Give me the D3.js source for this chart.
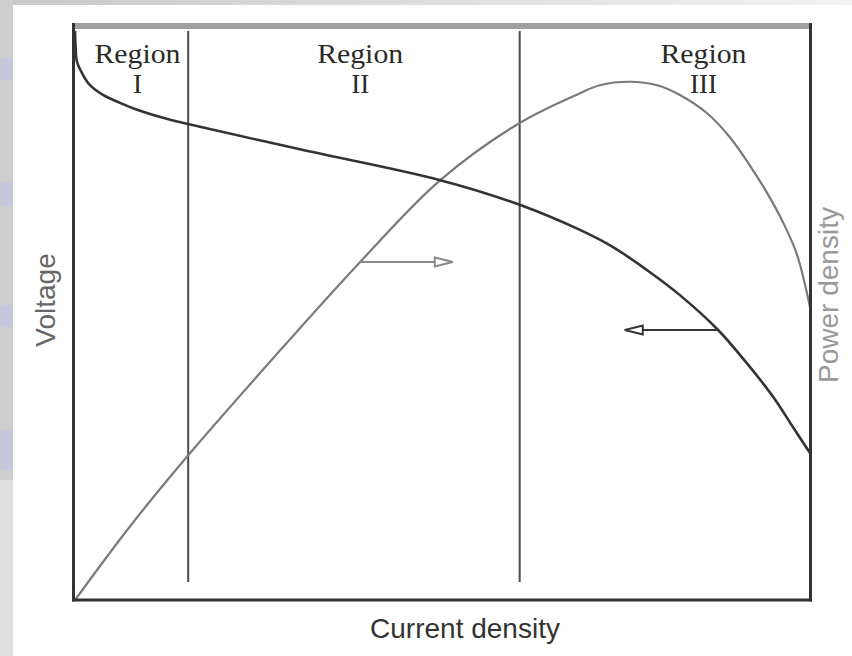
<!DOCTYPE html>
<html>
<head>
<meta charset="utf-8">
<script src="https://cdn.jsdelivr.net/npm/d3@7"></script>
<style>
  html, body { margin: 0; padding: 0; background: #fff; }
  svg { display: block; }
  .axis-label { font-family: "Liberation Sans", Arial, sans-serif; }
  .region-label { font-family: "Liberation Serif", "Times New Roman", serif; fill: #2a2a2a; }
</style>
</head>
<body>
<div id="chart"></div>
<script>
// current density (arbitrary units, 0-100) for the polarization curve
const voltageCurrent = [0, 0.07, 0.27, 1.09, 2.04, 3.81, 6.12, 8.44, 11.97, 15.37, 30.6, 49.7, 60.5, 68.7, 73.2, 77.8, 82.3, 87.5, 91.4, 95.0, 97.7, 100];
const voltageValues  = [99.5, 97.0, 94.1, 91.8, 90.0, 88.3, 86.9, 85.7, 84.3, 83.2, 78.8, 73.4, 69.1, 64.7, 61.7, 57.7, 53.3, 47.2, 41.4, 35.5, 30.2, 25.7];

// power density curve
const powerCurrent = [0, 7.5, 15.4, 26.5, 38.8, 49.7, 60.5, 68.7, 71.4, 75.5, 79.2, 82.3, 86.0, 89.1, 91.8, 94.1, 96.3, 98.2, 100];
const powerValues  = [0, 12.9, 25.3, 41.6, 59.1, 73.4, 83.4, 88.6, 90.0, 90.6, 90.0, 88.3, 85.1, 80.9, 76.0, 71.3, 66.1, 60.5, 51.2];

// region boundaries (current density) and labels
const regionBounds = [15.4, 60.5];
const regionNames = ["I", "II", "III"];
const regionCenters = [8.5, 38.8, 85.5];

// arrows pointing to the axis each curve belongs to: [from, to, level]
const powerArrow = [38.8, 51.4, 59.1];
const voltageArrow = [87.5, 74.8, 47.2];

const width = 852, height = 656;
const margin = { top: 28, right: 42, bottom: 56, left: 75 };
const innerW = width - margin.left - margin.right;   // 735
const innerH = height - margin.top - margin.bottom;  // 572

const svg = d3.select("#chart").append("svg")
  .attr("width", width)
  .attr("height", height);

// scanned page background bits
svg.append("rect").attr("width", width).attr("height", height).attr("fill", "#fff");
const defs = svg.append("defs");
const topGrad = defs.append("linearGradient").attr("id", "topGrad");
topGrad.append("stop").attr("offset", "0%").attr("stop-color", "#c9c9c9");
topGrad.append("stop").attr("offset", "100%").attr("stop-color", "#f2f2f2");
svg.append("rect").attr("x", 0).attr("y", 0).attr("width", width).attr("height", 5).attr("fill", "url(#topGrad)");
svg.append("rect").attr("x", 0).attr("y", 0).attr("width", 13).attr("height", height).attr("fill", "#cfcfcf");
const bluePatches = [[58, 22], [182, 24], [305, 22], [430, 40]];
bluePatches.forEach(([y, h]) => {
  svg.append("rect").attr("x", 0).attr("y", y).attr("width", 13).attr("height", h).attr("fill", "#c6c8db");
});
svg.append("rect").attr("x", 0).attr("y", 480).attr("width", 13).attr("height", height - 480).attr("fill", "#e0e0e0");

const chart = svg.append("g").attr("transform", `translate(${margin.left},${margin.top})`);

const xScale = d3.scaleLinear().domain([0, 100]).range([0, innerW]);
const yScale = d3.scaleLinear().domain([0, 100]).range([innerH, 0]);

function addArrow(id, color) {
  defs.append("marker")
    .attr("id", id)
    .attr("viewBox", "0 0 22 12")
    .attr("refX", 20)
    .attr("refY", 6)
    .attr("markerWidth", 22)
    .attr("markerHeight", 12)
    .attr("markerUnits", "userSpaceOnUse")
    .attr("orient", "auto")
    .append("path")
    .attr("d", "M2,1.5 L20,6 L2,10.5 Z")
    .attr("fill", "#fff")
    .attr("stroke", color)
    .attr("stroke-width", 2);
}
addArrow("arrowGray", "#8a8a8a");
addArrow("arrowDark", "#333");

// region dividers
chart.selectAll(".divider")
  .data(regionBounds)
  .enter().append("line")
  .attr("class", "divider")
  .attr("x1", (d) => xScale(d)).attr("x2", (d) => xScale(d))
  .attr("y1", 3).attr("y2", innerH - 18)
  .attr("stroke", "#4a4a4a")
  .attr("stroke-width", 2);

// region labels
const labels = chart.selectAll(".region-label")
  .data(regionNames)
  .enter().append("text")
  .attr("class", "region-label")
  .attr("text-anchor", "middle")
  .attr("font-size", 27);
labels.append("tspan")
  .attr("x", (d, i) => xScale(regionCenters[i]))
  .attr("y", 35)
  .attr("textLength", 86)
  .attr("lengthAdjust", "spacingAndGlyphs")
  .text("Region");
labels.append("tspan").attr("x", (d, i) => xScale(regionCenters[i])).attr("y", 65).text((d) => d);

const line = d3.line().curve(d3.curveCatmullRom.alpha(0.5));

// power density curve
chart.append("path")
  .attr("d", line(powerCurrent.map((c, i) => [xScale(c), yScale(powerValues[i])])))
  .attr("fill", "none")
  .attr("stroke", "#7a7a7a")
  .attr("stroke-width", 2.2);

// voltage curve
chart.append("path")
  .attr("d", line(voltageCurrent.map((c, i) => [xScale(c), yScale(voltageValues[i])])))
  .attr("fill", "none")
  .attr("stroke", "#333")
  .attr("stroke-width", 2.6);

chart.append("line")
  .attr("x1", xScale(powerArrow[0])).attr("x2", xScale(powerArrow[1]))
  .attr("y1", yScale(powerArrow[2])).attr("y2", yScale(powerArrow[2]))
  .attr("stroke", "#8a8a8a").attr("stroke-width", 2)
  .attr("marker-end", "url(#arrowGray)");

chart.append("line")
  .attr("x1", xScale(voltageArrow[0])).attr("x2", xScale(voltageArrow[1]))
  .attr("y1", yScale(voltageArrow[2])).attr("y2", yScale(voltageArrow[2]))
  .attr("stroke", "#333").attr("stroke-width", 2.2)
  .attr("marker-end", "url(#arrowDark)");

// frame
chart.append("line").attr("x1", -1.5).attr("x2", innerW + 1.5).attr("y1", -2).attr("y2", -2)
  .attr("stroke", "#a0a0a0").attr("stroke-width", 6);
chart.append("line").attr("x1", -1.5).attr("x2", -1.5).attr("y1", -5).attr("y2", innerH + 1.5)
  .attr("stroke", "#333").attr("stroke-width", 3);
chart.append("line").attr("x1", innerW + 0.5).attr("x2", innerW + 0.5).attr("y1", -5).attr("y2", innerH + 1.5)
  .attr("stroke", "#333").attr("stroke-width", 3);
chart.append("line").attr("x1", -3).attr("x2", innerW + 2).attr("y1", innerH).attr("y2", innerH)
  .attr("stroke", "#333").attr("stroke-width", 3);

// axis titles
svg.append("text")
  .attr("class", "axis-label")
  .attr("text-anchor", "middle")
  .attr("x", 465).attr("y", 638)
  .attr("font-size", 28)
  .attr("fill", "#333")
  .text("Current density");

svg.append("text")
  .attr("class", "axis-label")
  .attr("text-anchor", "middle")
  .attr("transform", "translate(55,300) rotate(-90)")
  .attr("font-size", 28)
  .attr("fill", "#666")
  .text("Voltage");

svg.append("text")
  .attr("class", "axis-label")
  .attr("text-anchor", "middle")
  .attr("transform", "translate(838,295) rotate(-90)")
  .attr("font-size", 28)
  .attr("fill", "#999")
  .text("Power density");
</script>
</body>
</html>
